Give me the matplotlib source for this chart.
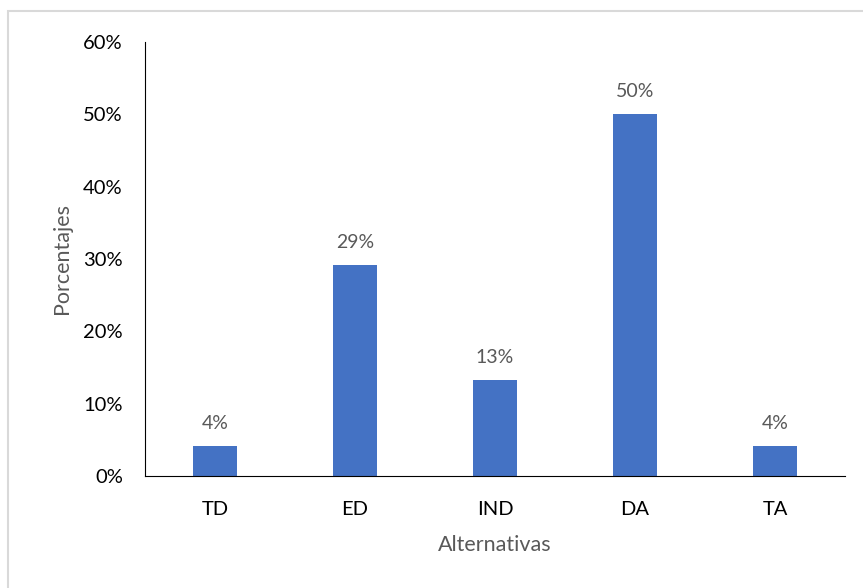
import matplotlib
matplotlib.use("Agg")
import matplotlib.pyplot as plt
from matplotlib.patches import Rectangle
from matplotlib.ticker import PercentFormatter

categorias = ["TD", "ED", "IND", "DA", "TA"]
porcentajes = [0.041, 0.292, 0.133, 0.50, 0.041]
etiquetas = ["4%", "29%", "13%", "50%", "4%"]

plt.rcParams['font.family'] = ['Lato', 'DejaVu Sans']

fig = plt.figure(figsize=(8.63, 5.88), dpi=100)
# marco gris del gráfico
fig.patches.append(Rectangle((8 / 863, -0.05), 1.1, 1 - 11 / 588 + 0.05,
                             transform=fig.transFigure, fill=False,
                             edgecolor="#d9d9d9", linewidth=1.5))

ax = fig.add_axes([145 / 863, 1 - 476 / 588, 700 / 863, 434 / 588])
x = range(len(categorias))
bars = ax.bar(x, porcentajes, width=0.314, color="#4472C4")

for b, txt in zip(bars, etiquetas):
    ax.annotate(txt, (b.get_x() + b.get_width() / 2, b.get_height()),
                xytext=(0, 10), textcoords="offset points",
                ha="center", va="bottom", fontsize=14, color="#595959")

ax.set_xlim(-0.5, len(categorias) - 0.5)
ax.set_ylim(0, 0.6)
ax.set_yticks([0, 0.1, 0.2, 0.3, 0.4, 0.5, 0.6])
ax.yaxis.set_major_formatter(PercentFormatter(1.0, decimals=0))
ax.set_xticks(list(x))
ax.set_xticklabels(categorias)
ax.tick_params(axis="both", length=0, labelsize=14.5, colors="black")
ax.tick_params(axis="x", pad=18)
ax.tick_params(axis="y", pad=16)

ax.spines["top"].set_visible(False)
ax.spines["right"].set_visible(False)
ax.spines["left"].set_color("black")
ax.spines["bottom"].set_color("black")

ax.set_xlabel("Alternativas", fontsize=15.5, color="#595959", labelpad=12)
ax.set_ylabel("Porcentajes", fontsize=15.5, color="#595959", labelpad=8)

fig.savefig("out.png", dpi=100)
